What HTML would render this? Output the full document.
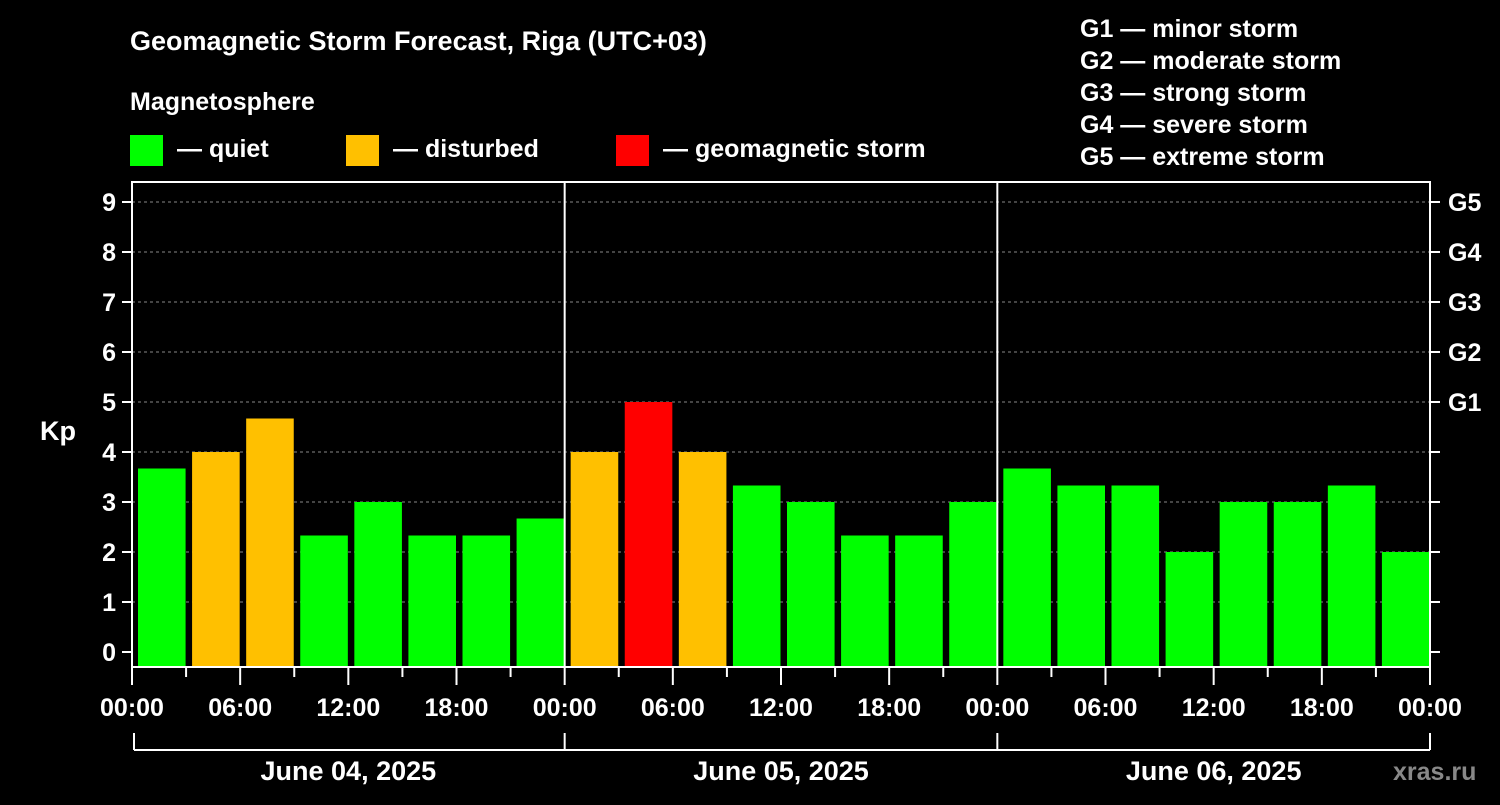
<!DOCTYPE html>
<html><head><meta charset="utf-8"><style>
body{margin:0;background:#000;width:1500px;height:800px;overflow:hidden}
svg{font-family:"Liberation Sans",sans-serif;font-weight:bold;fill:#fff}
</style></head><body>
<svg id="c" width="1500" height="800">
<text x="130" y="50" font-size="27">Geomagnetic Storm Forecast, Riga (UTC+03)</text>
<text x="130" y="110" font-size="25">Magnetosphere</text>
<rect x="130" y="135" width="33" height="31" fill="#00ff00"/>
<text x="177" y="157" font-size="25">— quiet</text>
<rect x="346" y="135" width="33" height="31" fill="#ffc000"/>
<text x="393" y="157" font-size="25">— disturbed</text>
<rect x="616" y="135" width="33" height="31" fill="#ff0000"/>
<text x="663" y="157" font-size="25">— geomagnetic storm</text>
<g font-size="25">
<text x="1080" y="37">G1 — minor storm</text>
<text x="1080" y="69">G2 — moderate storm</text>
<text x="1080" y="101">G3 — strong storm</text>
<text x="1080" y="133">G4 — severe storm</text>
<text x="1080" y="165">G5 — extreme storm</text>
</g>
<text x="40" y="440" font-size="27">Kp</text>
<text x="1393" y="780" font-size="25" fill="#888" style="fill:#888">xras.ru</text>
<g id="plot"></g>
</svg>
<script>
const values=[3.67,4,4.67,2.33,3,2.33,2.33,2.67, 4,5,4,3.33,3,2.33,2.33,3, 3.67,3.33,3.33,2,3,3,3.33,2];
const yTicks=[0,1,2,3,4,5,6,7,8,9];
const gLabels=["G1","G2","G3","G4","G5"];
const xLabels=["00:00","06:00","12:00","18:00","00:00","06:00","12:00","18:00","00:00","06:00","12:00","18:00","00:00"];
const days=["June 04, 2025","June 05, 2025","June 06, 2025"];
const L=132,R=1430,T=182,B=667;
const y=v=>652-v*50;
const slot=(R-L)/24;
const x=i=>L+i*slot;
const ns="http://www.w3.org/2000/svg";
const P=document.getElementById('plot');
function mk(t,a){const e=document.createElementNS(ns,t);for(const k in a)e.setAttribute(k,a[k]);P.appendChild(e);return e;}
function col(v){return v>=5?'#ff0000':v>=4?'#ffc000':'#00ff00';}
yTicks.forEach(v=>{
  if(v>0){const g=mk('line',{x1:L,x2:R,y1:y(v),y2:y(v),stroke:'#888','stroke-dasharray':'3,3','stroke-width':1});
  
  }
  const t=mk('line',{x1:L-10,x2:L,y1:y(v),y2:y(v),stroke:'#fff','stroke-width':2});
  
  
  const t2=mk('line',{x1:R,x2:R+10,y1:y(v),y2:y(v),stroke:'#fff','stroke-width':2});
  
  
  const l=mk('text',{x:L-16,y:y(v)+9,'font-size':25,'text-anchor':'end'});l.textContent=v;
  
  
});
gLabels.forEach((g,i)=>{
  const l=mk('text',{x:R+18,y:y(5+i)+9,'font-size':25});l.textContent=g;
  
  
});
values.forEach((v,i)=>{
  const r=mk('rect',{x:x(i)+6,y:y(v),width:slot-6-0.5,height:B-y(v),fill:col(v)});
  
  
});
for(let i=0;i<=24;i++){
  const maj=i%2==0;
  const t=mk('line',{x1:x(i),x2:x(i),y1:B,y2:B+(maj?18:10),stroke:'#fff','stroke-width':2});
  
  
}
xLabels.forEach((s,i)=>{
  const l=mk('text',{x:x(i*2),y:716,'font-size':25,'text-anchor':'middle'});l.textContent=s;
  
  
});
[8,16].forEach(i=>{
  const d=mk('line',{x1:x(i),x2:x(i),y1:T,y2:B,stroke:'#fff','stroke-width':2});
  
  
});
const fr=mk('rect',{x:L,y:T,width:R-L,height:B-T,fill:'none',stroke:'#fff','stroke-width':2});


const br=mk('line',{x1:x(0)+2,x2:R,y1:750,y2:750,stroke:'#fff','stroke-width':2});


[0,8,16,24].forEach(i=>{
  const v=mk('line',{x1:i==0?x(0)+2:x(i),x2:i==0?x(0)+2:x(i),y1:733,y2:750,stroke:'#fff','stroke-width':2});
  
  
});
days.forEach((d,i)=>{
  const l=mk('text',{x:(x(i*8)+x(i*8+8))/2,y:780,'font-size':27,'text-anchor':'middle'});l.textContent=d;
  
  
});
</script>
</body></html>
